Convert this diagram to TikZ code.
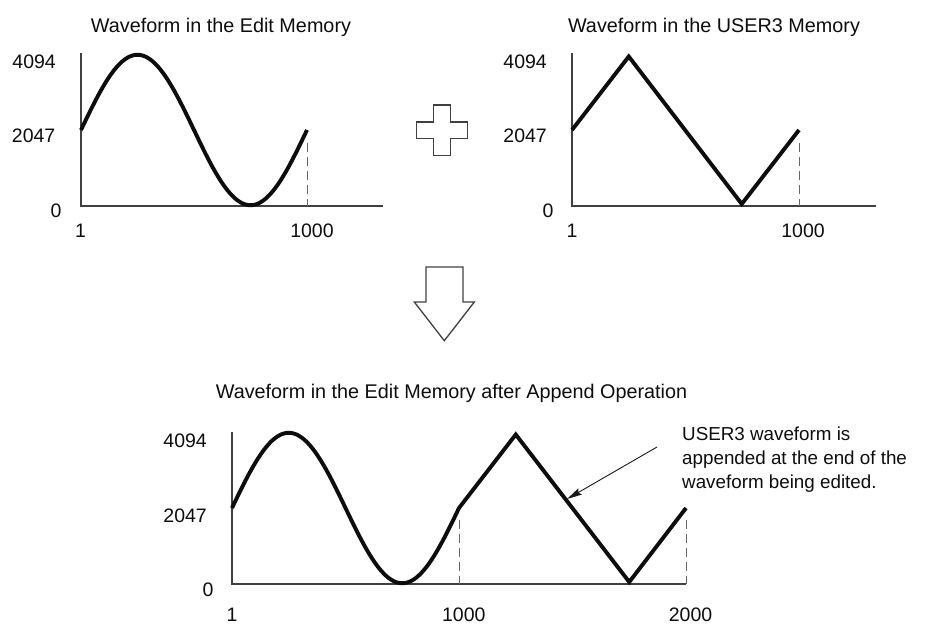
\documentclass[tikz,border=0pt]{standalone}
\usepackage{fontspec}
\setmainfont{Liberation Sans}
\usetikzlibrary{arrows.meta}
\begin{document}
\begin{tikzpicture}[x=1pt,y=-1pt,
  axisline/.style={line width=1.1pt, draw=black!75},
  wave/.style={line width=3.9pt, draw=black!95, line join=miter},
  markline/.style={line width=0.9pt, draw=black!60, dash pattern=on 9pt off 5pt},
  lbl/.style={inner sep=0pt, text=black!95, font=\fontsize{19.5}{22}\selectfont},
  ttl/.style={inner sep=0pt, text=black!95, font=\fontsize{19.8}{23}\selectfont},
  anntext/.style={inner sep=0pt, text=black!95, font=\fontsize{18.8}{23}\selectfont},
  outlineshape/.style={line width=1.3pt, draw=black!75, line join=miter}]
\useasboundingbox (0,0) rectangle (928,624);

% ---------- top-left chart ----------
\node[ttl, anchor=base] (ttlA) at (221,32) {Waveform in the Edit Memory};
\draw[axisline] (81,53) -- (81,206) -- (383,206);
\draw[markline] (307,143) -- (307,206);
\draw[wave] plot[domain=0:360, samples=121, smooth] ({81+0.627778*\x},{130-75.2*sin(\x)});
\node[lbl, anchor=base east] (aY4) at (56,68) {4094};
\node[lbl, anchor=base east] (aY2) at (55.5,142.5) {2047};
\node[lbl, anchor=base] (aY0) at (56,217.5) {0};
\node[lbl, anchor=base] (aX1) at (80.5,237) {1};
\node[lbl, anchor=base] (aX1000) at (312,237) {1000};

% ---------- top-right chart ----------
\node[ttl, anchor=base] (ttlB) at (714,32) {Waveform in the USER3 Memory};
\draw[axisline] (572,53) -- (572,206) -- (876,206);
\draw[markline] (799,143) -- (799,206);
\draw[wave] (572,130) -- (628.75,56.5) -- (741.75,204) -- (799,130);
\node[lbl, anchor=base east] (bY4) at (547,68) {4094};
\node[lbl, anchor=base east] (bY2) at (547,142.5) {2047};
\node[lbl, anchor=base] (bY0) at (548,217.5) {0};
\node[lbl, anchor=base] (bX1) at (572,237) {1};
\node[lbl, anchor=base] (bX1000) at (803,237) {1000};

% ---------- plus sign ----------
\draw[outlineshape] (433.7,105) -- (450.3,105) -- (450.3,122) -- (467.3,122) -- (467.3,138.7)
  -- (450.3,138.7) -- (450.3,155.3) -- (433.7,155.3) -- (433.7,138.7) -- (416.7,138.7)
  -- (416.7,122) -- (433.7,122) -- cycle;

% ---------- down arrow ----------
\draw[outlineshape] (426,267) -- (463,267) -- (463,302) -- (474.3,302) -- (444.3,340.7)
  -- (414.3,302) -- (426,302) -- cycle;

% ---------- bottom chart ----------
\node[ttl, anchor=base] (ttlC) at (451.5,398) {Waveform in the Edit Memory after Append Operation};
\draw[axisline] (232,432) -- (232,584) -- (686,584);
\draw[markline] (459,520) -- (459,584);
\draw[markline] (686,520) -- (686,584);
\draw[wave] plot[domain=0:360, samples=121, smooth] ({232+0.630556*\x},{508-75.2*sin(\x)})
  -- (515.75,434.5) -- (629.25,582) -- (686,508);
\node[lbl, anchor=base east] (cY4) at (207,447) {4094};
\node[lbl, anchor=base east] (cY2) at (207,522) {2047};
\node[lbl, anchor=base] (cY0) at (208,596) {0};
\node[lbl, anchor=base] (cX1) at (232,621.5) {1};
\node[lbl, anchor=base] (cX1000) at (463.8,621.5) {1000};
\node[lbl, anchor=base] (cX2000) at (690.5,621.5) {2000};

% ---------- annotation ----------
\node[anntext, anchor=base west] (ann1) at (682,440) {USER3 waveform is};
\node[anntext, anchor=base west] (ann2) at (682,464) {appended at the end of the};
\node[anntext, anchor=base west] (ann3) at (682,488) {waveform being edited.};
\coordinate (arrS) at (657,447);
\coordinate (arrE) at (567,499);
\draw[line width=0.9pt, draw=black!90, -{Stealth[length=15pt, width=7pt, inset=2pt]}] (arrS) -- (arrE);
\end{tikzpicture}
\end{document}
